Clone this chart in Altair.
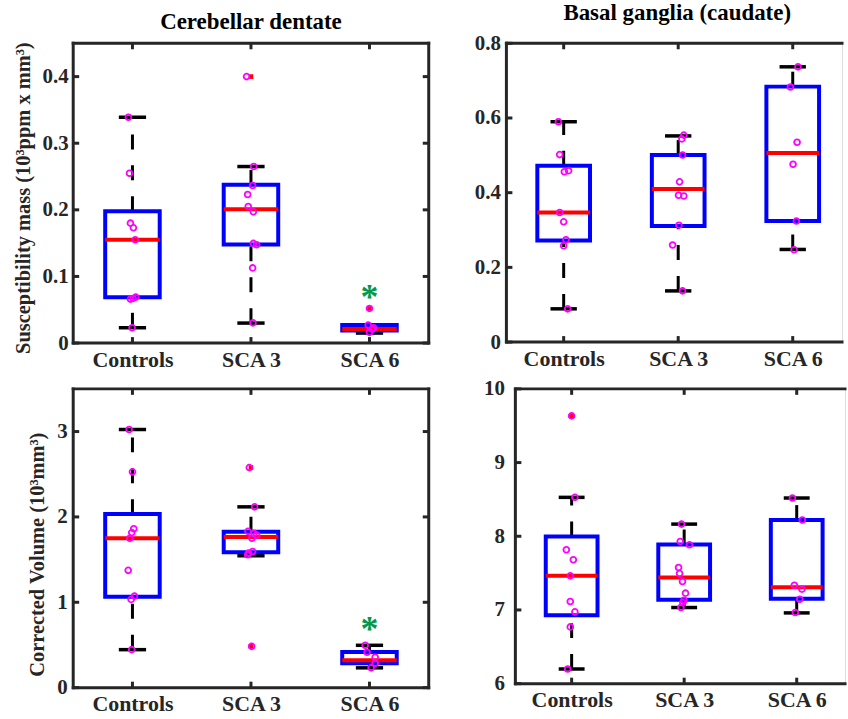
import altair as alt
import pandas as pd

CATEGORIES = ["Controls", "SCA 3", "SCA 6"]

# ---------------- Panel A: Cerebellar dentate, susceptibility mass ----------------
A_controls = [0.339, 0.255, 0.180, 0.173, 0.155, 0.069, 0.067, 0.066, 0.023]
A_controls_jit = [-0.034, -0.025, -0.017, 0.008, 0.023, 0.028, 0.006, -0.017, -0.003]
A_sca3 = [0.400, 0.265, 0.2365, 0.223, 0.205, 0.197, 0.1496, 0.1476, 0.1128, 0.0303]
A_sca3_jit = [-0.037, 0.023, 0.014, -0.028, -0.023, 0.020, 0.020, 0.048, 0.014, 0.017]
A_sca6 = [0.052, 0.027, 0.023, 0.021, 0.016]
A_sca6_jit = [0.0, -0.011, 0.034, 0.023, 0.0]
A_q1 = [0.0686, 0.148, 0.019]
A_median = [0.155, 0.201, 0.021]
A_q3 = [0.198, 0.2375, 0.027]
A_whisker_low = [0.023, 0.030, 0.015]
A_whisker_high = [0.339, 0.265, 0.027]
A_outlier_group = [2, 3]
A_outlier_value = [0.400, 0.052]
A_star_group = [3]
A_star_value = [0.077]
A_y_ticks = [0, 0.1, 0.2, 0.3, 0.4]

# ---------------- Panel B: Basal ganglia (caudate), susceptibility mass ----------------
B_controls = [0.590, 0.502, 0.456, 0.459, 0.347, 0.322, 0.274, 0.258, 0.089]
B_controls_jit = [-0.046, -0.035, 0.006, 0.043, -0.035, 0.0, 0.020, 0.0, 0.035]
B_sca3 = [0.554, 0.544, 0.501, 0.429, 0.393, 0.391, 0.313, 0.260, 0.137]
B_sca3_jit = [0.049, 0.032, 0.038, 0.012, 0.003, 0.049, 0.006, -0.049, 0.038]
B_sca6 = [0.737, 0.683, 0.535, 0.476, 0.324, 0.247]
B_sca6_jit = [0.046, -0.020, 0.038, 0.003, 0.032, 0.012]
B_q1 = [0.272, 0.311, 0.324]
B_median = [0.347, 0.410, 0.506]
B_q3 = [0.472, 0.501, 0.684]
B_whisker_low = [0.089, 0.137, 0.248]
B_whisker_high = [0.590, 0.552, 0.737]
B_outlier_group = []
B_outlier_value = []
B_star_group = []
B_star_value = []
B_y_ticks = [0, 0.2, 0.4, 0.6, 0.8]

# ---------------- Panel C: Cerebellar dentate, corrected volume ----------------
C_controls = [3.024, 2.528, 1.862, 1.816, 1.750, 1.374, 1.072, 1.034, 0.445]
C_controls_jit = [-0.028, 0.0, 0.011, -0.006, -0.022, -0.036, 0.017, -0.011, -0.006]
C_sca3 = [2.578, 2.118, 1.831, 1.808, 1.785, 1.750, 1.595, 1.576, 1.556, 0.484]
C_sca3_jit = [-0.014, 0.031, -0.025, 0.025, 0.048, 0.008, 0.014, -0.020, -0.028, 0.006]
C_sca6 = [0.496, 0.414, 0.356, 0.286, 0.232]
C_sca6_jit = [-0.036, -0.020, 0.048, 0.048, 0.014]
C_q1 = [1.065, 1.587, 0.286]
C_median = [1.750, 1.765, 0.321]
C_q3 = [2.033, 1.827, 0.418]
C_whisker_low = [0.445, 1.545, 0.232]
C_whisker_high = [3.024, 2.118, 0.496]
C_outlier_group = [2, 2]
C_outlier_value = [2.578, 0.484]
C_star_group = [3]
C_star_value = [0.74]
C_y_ticks = [0, 1, 2, 3]

# ---------------- Panel D: Basal ganglia (caudate), corrected volume ----------------
D_controls = [9.633, 8.528, 7.817, 7.681, 7.463, 7.114, 6.974, 6.770, 6.199]
D_controls_jit = [0.0, 0.029, -0.047, 0.015, -0.012, -0.012, 0.029, -0.012, -0.035]
D_sca3 = [8.165, 7.930, 7.884, 7.576, 7.495, 7.386, 7.228, 7.132, 7.100, 7.033]
D_sca3_jit = [-0.024, -0.035, 0.047, -0.050, -0.041, -0.015, 0.012, -0.003, -0.012, -0.029]
D_sca6 = [8.519, 8.220, 7.336, 7.282, 7.146, 6.965]
D_sca6_jit = [-0.038, 0.050, -0.021, 0.047, 0.027, -0.012]
D_q1 = [6.929, 7.137, 7.151]
D_median = [7.463, 7.440, 7.309]
D_q3 = [7.998, 7.889, 8.220]
D_whisker_low = [6.199, 7.033, 6.960]
D_whisker_high = [8.528, 8.165, 8.519]
D_outlier_group = [1]
D_outlier_value = [9.633]
D_star_group = []
D_star_value = []
D_y_ticks = [6, 7, 8, 9, 10]

TITLE_LEFT = "Cerebellar dentate"
TITLE_RIGHT = "Basal ganglia (caudate)"
YTITLE_TOP = "Susceptibility mass (10³ppm x mm³)"
YTITLE_BOTTOM = "Corrected Volume (10³mm³)"

# ---------------- styling ----------------
FONT = "Liberation Serif"
INK = "#262626"
BOX_HALF = 0.23
CAP_HALF = 0.115
TICK_LEN = 6


def build_panel(vals, jits, q1, med, q3, lo, hi, out_g, out_v, star_g, star_v,
                y_domain, y_ticks, width, height, x_max, title=None, title_dx=0, y_title=None,
                title_y=None, y_label_pad=5, x_label_pad=10, right_frame=True):
    rows = []
    for gi, (gv, gj) in enumerate(zip(vals, jits)):
        for v, j in zip(gv, gj):
            rows.append({"pos": gi + 1 + j, "val": v})
    pts = pd.DataFrame(rows)

    box = pd.DataFrame({"pos": [1, 2, 3], "q1": q1, "med": med, "q3": q3, "lo": lo, "hi": hi})
    box["boxL"] = box["pos"] - BOX_HALF
    box["boxR"] = box["pos"] + BOX_HALF
    box["capL"] = box["pos"] - CAP_HALF
    box["capR"] = box["pos"] + CAP_HALF

    outl = pd.DataFrame({"pos": out_g, "val": out_v})
    star = pd.DataFrame({"pos": star_g, "val": star_v})
    one = pd.DataFrame({"k": [0]})
    yt = pd.DataFrame({"v": y_ticks})
    xt = pd.DataFrame({"v": [1, 2, 3]})

    label_expr = "datum.value == 1 ? '%s' : datum.value == 2 ? '%s' : '%s'" % tuple(CATEGORIES)
    xaxis = alt.Axis(values=[1, 2, 3], labelExpr=label_expr, title=None, ticks=False, tickSize=0,
                     domain=False, grid=False, labelPadding=x_label_pad, labelFont=FONT,
                     labelFontSize=22, labelFontWeight="bold", labelColor=INK, labelAngle=0,
                     labelFlush=False, labelOverlap=False)
    yargs = dict(values=y_ticks, format="~r", ticks=False, tickSize=0, domain=False, grid=False,
                 labelPadding=y_label_pad, labelFont=FONT, labelFontSize=21,
                 labelFontWeight="bold", labelColor=INK, labelOverlap=False, labelFlush=False)
    if y_title:
        yargs.update(title=y_title, titleFont=FONT, titleFontSize=20.5, titleFontWeight="bold",
                     titleColor=INK, titlePadding=9)
        if title_y is not None:
            yargs.update(titleY=title_y)
    else:
        yargs.update(title=None)
    yaxis = alt.Axis(**yargs)

    xs = alt.Scale(domain=[0.5, x_max], nice=False, zero=False)
    ys = alt.Scale(domain=y_domain, nice=False, zero=False)

    def X(f):
        return alt.X(f"{f}:Q", scale=xs, axis=xaxis)

    def Y(f):
        return alt.Y(f"{f}:Q", scale=ys, axis=yaxis)

    layers = []
    layers.append(alt.Chart(box).mark_rule(color="black", strokeWidth=3, strokeDash=[15, 16])
                  .encode(x=X("pos"), y=Y("q3"), y2="hi"))
    layers.append(alt.Chart(box).mark_rule(color="black", strokeWidth=3, strokeDash=[15, 16])
                  .encode(x=X("pos"), y=Y("lo"), y2="q1"))
    layers.append(alt.Chart(box).mark_rule(color="black", strokeWidth=3.5)
                  .encode(x=X("capL"), x2="capR", y=Y("hi")))
    layers.append(alt.Chart(box).mark_rule(color="black", strokeWidth=3.5)
                  .encode(x=X("capL"), x2="capR", y=Y("lo")))
    layers.append(alt.Chart(box).mark_rect(fillOpacity=0, stroke="#0000ff", strokeWidth=4)
                  .encode(x=X("boxL"), x2="boxR", y=Y("q1"), y2="q3"))
    layers.append(alt.Chart(box).mark_rule(color="#ff0000", strokeWidth=4)
                  .encode(x=X("boxL"), x2="boxR", y=Y("med")))
    if len(outl):
        layers.append(alt.Chart(outl).mark_square(color="#ff0000", size=22, opacity=1)
                      .encode(x=X("pos"), y=Y("val")))
    layers.append(alt.Chart(pts).mark_point(shape="circle", filled=False, color="#ff00ff",
                                            size=34, strokeWidth=1.8, opacity=1)
                  .encode(x=X("pos"), y=Y("val")))
    if len(star):
        layers.append(alt.Chart(star).mark_text(text="*", font=FONT, fontSize=36,
                                                fontWeight="bold", color="#00994c",
                                                baseline="alphabetic", dy=17)
                      .encode(x=X("pos"), y=Y("val")))

    # frame
    fr = dict(color=INK, strokeWidth=3, strokeCap="square")
    layers.append(alt.Chart(one).mark_rule(**fr).encode(x=alt.value(0), x2=alt.value(width), y=alt.value(0)))
    layers.append(alt.Chart(one).mark_rule(**fr).encode(x=alt.value(0), x2=alt.value(width), y=alt.value(height)))
    layers.append(alt.Chart(one).mark_rule(**fr).encode(x=alt.value(0), y=alt.value(0), y2=alt.value(height)))
    if right_frame:
        layers.append(alt.Chart(one).mark_rule(**fr).encode(x=alt.value(width), y=alt.value(0), y2=alt.value(height)))

    # inward ticks
    tk = dict(color=INK, strokeWidth=3)
    layers.append(alt.Chart(yt).mark_rule(**tk).encode(x=alt.value(0), x2=alt.value(TICK_LEN), y=Y("v")))
    if right_frame:
        layers.append(alt.Chart(yt).mark_rule(**tk).encode(x=alt.value(width - TICK_LEN), x2=alt.value(width), y=Y("v")))
    layers.append(alt.Chart(xt).mark_rule(**tk).encode(x=X("v"), y=alt.value(height), y2=alt.value(height - TICK_LEN)))
    layers.append(alt.Chart(xt).mark_rule(**tk).encode(x=X("v"), y=alt.value(0), y2=alt.value(TICK_LEN)))

    props = dict(width=width, height=height)
    if title:
        props["title"] = alt.TitleParams(text=title, font=FONT, fontSize=23, fontWeight="bold",
                                         color="#000000", offset=7, anchor="middle", frame="group",
                                         dx=title_dx)
    return alt.layer(*layers).properties(**props)


pA = build_panel([A_controls, A_sca3, A_sca6], [A_controls_jit, A_sca3_jit, A_sca6_jit],
                 A_q1, A_median, A_q3, A_whisker_low, A_whisker_high,
                 A_outlier_group, A_outlier_value, A_star_group, A_star_value,
                 [0, 0.45], A_y_ticks, 357, 301, 3.5, title=TITLE_LEFT, y_title=YTITLE_TOP,
                 title_y=155, y_label_pad=5, x_label_pad=7, right_frame=True)
pB = build_panel([B_controls, B_sca3, B_sca6], [B_controls_jit, B_sca3_jit, B_sca6_jit],
                 B_q1, B_median, B_q3, B_whisker_low, B_whisker_high,
                 B_outlier_group, B_outlier_value, B_star_group, B_star_value,
                 [0, 0.8], B_y_ticks, 337, 300, 0.5 + 337 / 115, title=TITLE_RIGHT, title_dx=3,
                 y_label_pad=6, x_label_pad=7, right_frame=False)
pC = build_panel([C_controls, C_sca3, C_sca6], [C_controls_jit, C_sca3_jit, C_sca6_jit],
                 C_q1, C_median, C_q3, C_whisker_low, C_whisker_high,
                 C_outlier_group, C_outlier_value, C_star_group, C_star_value,
                 [0, 3.5], C_y_ticks, 357, 300, 3.5, y_title=YTITLE_BOTTOM,
                 title_y=166, y_label_pad=6, x_label_pad=6, right_frame=True)
pD = build_panel([D_controls, D_sca3, D_sca6], [D_controls_jit, D_sca3_jit, D_sca6_jit],
                 D_q1, D_median, D_q3, D_whisker_low, D_whisker_high,
                 D_outlier_group, D_outlier_value, D_star_group, D_star_value,
                 [6, 10], D_y_ticks, 331, 296, 0.5 + 331 / 113,
                 y_label_pad=11, x_label_pad=6, right_frame=False)

top = alt.hconcat(pA, pB, spacing=42)
bottom = alt.hconcat(pC, pD, spacing=51)
chart = (alt.vconcat(top, bottom, spacing=5)
         .properties(padding={"left": 12.5, "top": 0, "right": 0, "bottom": 0})
         .configure_view(stroke=None)
         .configure(background="white"))

chart.save("out.html", embed_options={"renderer": "svg", "actions": False})
